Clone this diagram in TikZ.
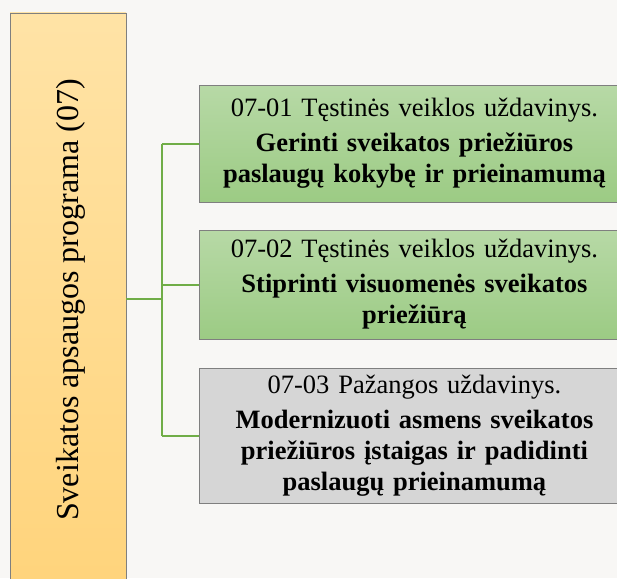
\documentclass[tikz,border=0pt]{standalone}
\usepackage{fontspec}
\setmainfont{Liberation Serif}
\usetikzlibrary{positioning}

\definecolor{pagebg}{HTML}{F8F7F5}
\definecolor{progtop}{HTML}{FFE3A6}
\definecolor{progbot}{HTML}{FFD47C}
\definecolor{greentop}{HTML}{B7D9A6}
\definecolor{greenbot}{HTML}{9CCB84}
\definecolor{taskgray}{HTML}{D6D6D6}
\definecolor{edgegray}{HTML}{7F7F7F}
\definecolor{linkgreen}{HTML}{70AD47}

\begin{document}
\begin{tikzpicture}[x=1pt, y=-1pt,
  task/.style={draw=edgegray, line width=0.9pt, anchor=west, align=center,
    text width=420pt, minimum width=430pt, inner sep=0pt,
    font=\fontsize{26.5}{31}\selectfont},
  greentask/.style={task, top color=greentop, bottom color=greenbot},
  graytask/.style={task, fill=taskgray},
  link/.style={draw=linkgreen, line width=2pt}]

\useasboundingbox (0,0) rectangle (617,578);
\fill[pagebg] (0,0) rectangle (617,578);
\clip (0,0) rectangle (617,578);

% programa
\node[draw=edgegray, line width=0.9pt, top color=progtop, bottom color=progbot,
  minimum width=116pt, minimum height=572pt, inner sep=0pt] (prog) at (68,299) {};
\node[rotate=90, font=\fontsize{32}{36}\selectfont] (progtext) at (71,300) {Sveikatos apsaugos programa (07)};

% uzdaviniai
\node[greentask, minimum height=117pt] (t1) at (199,143.5)
  {07-01 Tęstinės veiklos uždavinys.\\[4pt]
   \textbf{Gerinti sveikatos priežiūros}\\
   \textbf{paslaugų kokybę ir prieinamumą}\\[2pt]};
\node[greentask, minimum height=109pt] (t2) at (199,284.5)
  {07-02 Tęstinės veiklos uždavinys.\\[4pt]
   \textbf{Stiprinti visuomenės sveikatos}\\
   \textbf{priežiūrą}};
\node[graytask, minimum height=135pt] (t3) at (199,435.5)
  {07-03 Pažangos uždavinys.\\[4pt]
   \textbf{Modernizuoti asmens sveikatos}\\
   \textbf{priežiūros įstaigas ir padidinti}\\
   \textbf{paslaugų prieinamumą}\\[2pt]};

% jungtys
\coordinate (fork) at (162,299);
\draw[link] (prog.east |- fork) -- (fork);
\draw[link] (fork |- t1.west) -- (fork |- t3.west);
\draw[link] (fork |- t1.west) -- (t1.west);
\draw[link] (fork |- t2.west) -- (t2.west);
\draw[link] (fork |- t3.west) -- (t3.west);
\end{tikzpicture}
\end{document}
